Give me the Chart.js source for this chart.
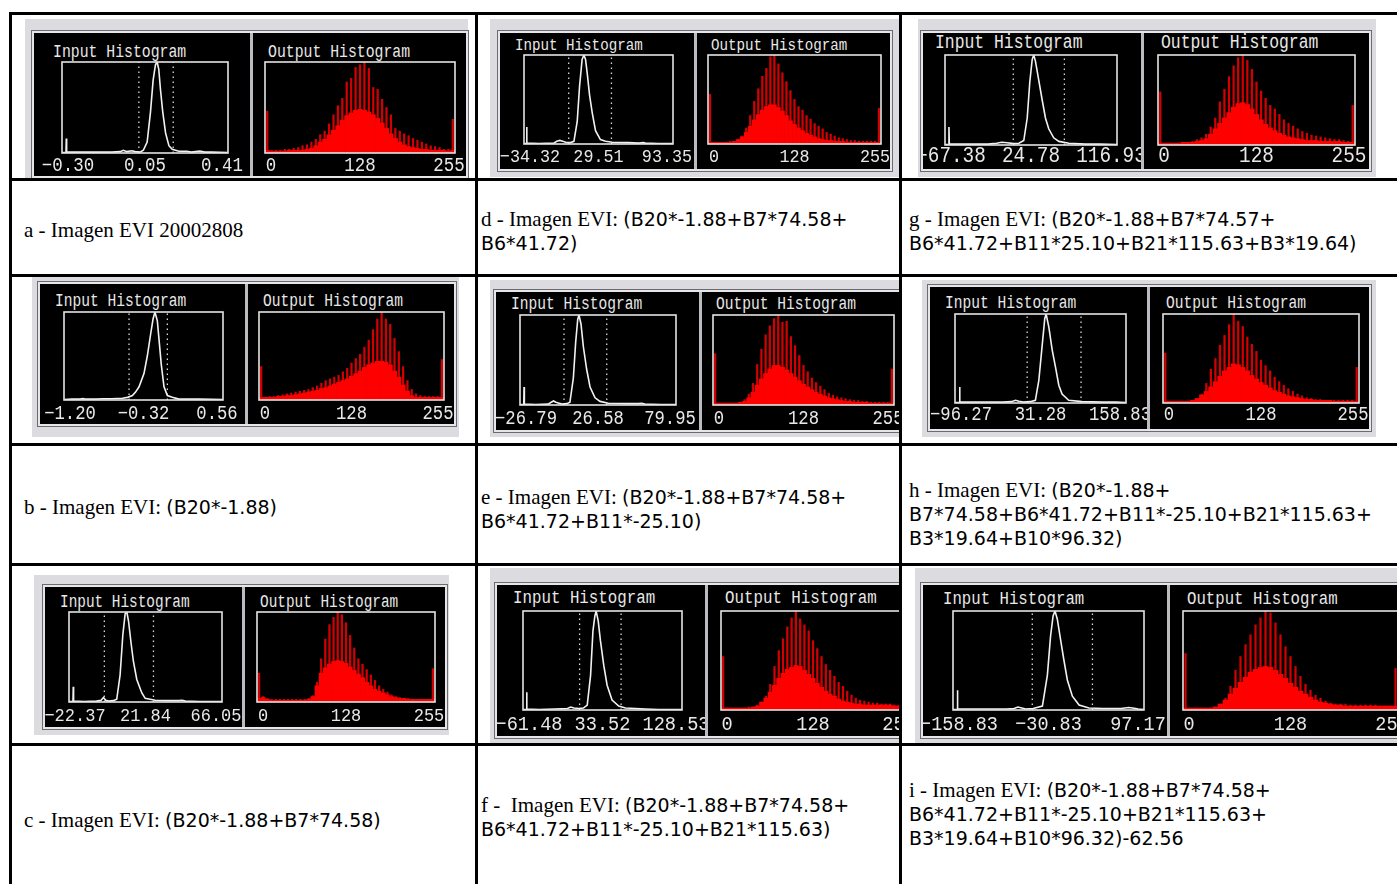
<!DOCTYPE html>
<html>
<head>
<meta charset="utf-8">
<script src="https://cdn.jsdelivr.net/npm/chart.js@4.4.1/dist/chart.umd.min.js"></script>
<style>
  body { margin: 0; background: #fff; }
  #page { position: relative; width: 1397px; height: 884px; overflow: hidden; background: #fff; }
  .cell { position: absolute; overflow: hidden; }
  .frame { position: absolute; background: #dcdce0; }
  .blk { position: absolute; background: #000; box-shadow: 0 0 0 2px #e6e6ea, 0 0 0 3px #6c6c70; }
  .sep { position: absolute; background: #bcbcc0; }
  .ttl { position: absolute; color: #e8e8e8; font-family: 'Liberation Mono', monospace; white-space: pre; }
  canvas { position: absolute; }
  .line { position: absolute; background: #000; z-index: 5; }
  .cap { position: absolute; line-height: 22px; color: #000; white-space: pre; }
  .cap .s { font-family: 'Liberation Serif', serif; font-size: 21px; }
  .cap .f { font-family: 'DejaVu Sans', sans-serif; font-size: 19px; }
</style>
</head>
<body>
<div id="page"></div>
<script>
// bins of the output (stretched) histograms, 0..255
const outBins = [0,6,12,18,24,30,36,42,48,54,60,66,72,78,84,90,96,102,108,114,120,126,132,138,144,150,156,162,168,174,180,186,192,198,204,210,216,222,228,234,240,246,255];

// input histograms: [bin position 0-100, count % of max]
const inputA = [[0,0.5],[2.4,0.5],[2.6,16],[2.8,1],[10,1],[20,1],[30,1],[35,1.5],[37,3],[39,1.5],[42,2.5],[44,1.5],[47,1],[49,3],[51.3,12],[53.3,45],[54.9,80],[56.3,97],[57.3,100],[58.3,92],[59.3,70],[60.7,45],[62.4,22],[64.4,8],[66.4,4],[70.4,2],[75,2],[78,1],[80.5,1.5],[83,2],[86,1],[90.5,1],[95,0.7],[100,0.5]];
const inputD = [[0,0.5],[1.6,0.5],[1.8,19],[2,1],[10,0.5],[20,1],[22,3],[24,4],[26,3],[28,2],[31,1.5],[33.5,3],[35.7,25],[37.3,65],[39,95],[40.2,100],[41.3,95],[42.4,80],[44,55],[45.8,35],[48,15],[51.3,5],[54.7,3],[59.2,2],[70,1.5],[77,1],[80,1.5],[81.5,1],[90,0.5],[100,0.5]];
const inputG = [[0,0.5],[2.1,0.5],[2.3,20],[2.5,1],[15,1],[25,1],[30,2],[33,3],[36,2.5],[40,1.5],[43,2],[45.8,5],[47.8,30],[49.3,70],[50.7,95],[51.6,100],[52.6,93],[54.5,72],[56.5,50],[58.4,30],[60.3,18],[63.2,8],[66.2,4],[72,2],[81.6,1],[90,1],[100,0.5]];
const inputB = [[0,0.5],[5,1],[10,1],[12,1.5],[13,1],[20,1],[25,1.5],[30,1.5],[36.7,2],[40,3],[43,5],[45,9],[47.2,15],[50.3,30],[52.4,50],[54.5,75],[56,92],[57.2,100],[58.7,90],[59.7,70],[61.2,40],[62.9,15],[65,5],[68.1,3],[72.3,1],[85,1],[100,0.5]];
const inputE = [[0,0.5],[2.4,0.5],[2.6,20],[2.8,1],[10,0.5],[18,1],[20,3],[21.5,4.5],[23,3],[25,2],[27,1],[30,1.5],[32,3],[34.2,30],[35.7,70],[37,95],[37.8,100],[39.1,90],[40.6,65],[42.7,40],[44.9,20],[48.1,8],[51.3,4],[56.6,2],[70,1.5],[76,1.5],[78,2],[80,1],[90,0.5],[100,0.5]];
const inputH = [[0,0.5],[2.5,0.5],[2.7,18],[2.9,1],[15,1],[28,1],[33,1.5],[35.4,3],[37.4,2],[40,1],[44,1.5],[47,3],[49,25],[51,65],[52.5,95],[53.3,100],[54.9,85],[56.8,60],[58.8,40],[60.7,20],[62.6,10],[66.5,3],[74.3,1.5],[86,1],[94,1],[97,0.7],[100,0.5]];
const inputC = [[0,0.5],[2.6,0.5],[2.8,17],[3,1],[10,0.5],[18,1],[21,2],[22.5,5],[24,2],[26,1],[29,1.5],[31.2,3],[33.4,30],[35.2,75],[36.7,98],[37.8,100],[38.9,90],[40.6,65],[42.1,45],[44.3,25],[47.6,10],[49.8,4],[56.3,2],[65,1.5],[71.6,1.5],[74,2],[76,1],[85,0.5],[100,0.5]];
const inputF = [[0,0.5],[2.1,0.5],[2.3,18],[2.5,1],[10,0.5],[20,1],[28,1.5],[30,3],[32,2],[35,1.5],[38,2],[40.4,5],[42.5,35],[44,80],[45.2,95],[46,100],[47.3,90],[48.7,70],[50.8,45],[52.9,25],[56,10],[60.2,4],[64.4,2],[77,1],[85,0.5],[100,0.5]];
const inputI = [[0,0.5],[2.1,0.5],[2.3,20],[2.5,1],[15,1],[28,1],[32,1.5],[34,3],[36,2],[38,1],[42,1.5],[46.8,4],[49.4,35],[51.1,75],[52.4,95],[53.4,100],[54.6,92],[56.4,70],[58.1,50],[59.9,30],[62.5,14],[66,5],[71.2,2],[78.2,1.5],[88,1.5],[92,2.5],[94,2],[97,1],[100,0.5]];

// stretch limits (dotted lines), in the same bin units
const limitsA = [46.3, 67];
const limitsD = [30, 58.7];
const limitsG = [39.7, 69.4];
const limitsB = [40.9, 65];
const limitsE = [28.2, 55.6];
const limitsH = [42.2, 73.7];
const limitsC = [23.1, 55.2];
const limitsF = [35.6, 61.7];
const limitsI = [41.5, 73];

// tick labels
const ticksA = ['\u22120.30', '0.05', '0.41'];
const ticksD = ['\u221234.32', '29.51', '93.35'];
const ticksG = ['\u221267.38', '24.78', '116.93'];
const ticksB = ['\u22121.20', '\u22120.32', '0.56'];
const ticksE = ['\u221226.79', '26.58', '79.95'];
const ticksH = ['\u221296.27', '31.28', '158.83'];
const ticksC = ['\u221222.37', '21.84', '66.05'];
const ticksF = ['\u221261.48', '33.52', '128.53'];
const ticksI = ['\u2212158.83', '\u221230.83', '97.17'];
const ticksOut = ['0', '128', '255'];

// output histograms (% of max): tall comb spikes and the filled body
const spikesA = [46,3,3,3,4,4,5,6,8,9,12,15,20,24,32,42,52,60,78,82,94,97,100,93,72,70,59,50,42,27,24,21,19,16,14,12,10,8,7,6,4,4,37];
const baseA = [3,2,2,2,2,3,3,3,3,4,5,8,12,15,20,25,30,36,41,44,47,48,47,45,42,38,33,27,21,16,12,9,7,6,5,4,4,3,3,3,3,2,3];
const spikesD = [56,2,2,2,2,3,3,5,9,18,32,48,62,76,85,98,100,90,80,70,60,50,42,38,32,28,23,20,17,13,11,9,7,6,5,4,4,3,3,3,3,3,40];
const baseD = [2,2,2,2,2,2,3,5,8,13,20,27,33,38,42,44,44,41,37,32,26,22,18,15,12,10,8,6,5,4,4,3,3,3,2,2,2,2,2,2,2,2,2];
const spikesG = [59,2,2,2,2,2,3,4,6,8,12,20,30,48,62,76,88,97,100,94,84,70,60,52,44,40,34,28,24,21,18,15,13,11,10,9,8,7,6,6,5,4,44];
const baseG = [2,2,2,2,2,3,3,3,4,5,7,12,18,24,30,36,42,46,47,45,40,34,28,23,19,16,13,11,9,8,7,6,5,5,5,4,4,4,4,4,3,3,3];
const spikesB = [38,3,4,4,5,6,7,8,9,10,11,12,14,16,19,22,24,26,28,32,36,42,47,52,60,68,80,92,100,92,86,70,55,38,22,12,7,5,4,4,4,4,46];
const baseB = [3,3,3,3,4,4,5,5,6,7,8,9,10,11,13,14,16,18,20,22,24,27,30,33,37,40,42,44,44,43,40,33,26,17,10,5,3,3,3,3,3,3,3];
const spikesE = [57,2,2,2,2,2,3,6,12,24,45,62,78,88,96,100,92,93,76,66,55,44,37,30,25,21,17,13,11,9,8,7,6,5,5,4,4,3,3,3,3,3,40];
const baseE = [2,2,2,2,2,2,3,4,8,14,22,29,35,40,44,44,42,39,35,31,27,23,20,17,14,12,10,8,7,6,5,4,4,3,3,3,3,2,2,2,2,2,2];
const spikesH = [56,2,2,2,2,2,3,5,10,22,38,50,65,76,88,100,92,86,74,66,58,48,42,36,29,24,20,16,13,10,8,6,5,4,4,3,3,3,3,3,3,3,40];
const baseH = [2,2,2,2,2,2,3,5,9,13,18,24,30,36,40,44,43,40,36,31,27,23,20,17,14,12,10,8,7,6,5,4,4,3,3,3,3,2,2,2,2,2,2];
const spikesC = [32,6,4,3,3,3,3,3,3,3,3,3,4,7,22,48,70,86,94,100,97,88,74,60,48,42,36,30,24,18,14,11,8,6,5,4,4,3,3,3,3,3,37];
const baseC = [4,5,3,2,2,2,2,2,2,2,2,2,3,6,18,32,38,42,45,46,45,43,39,35,31,27,22,18,14,12,10,8,6,5,4,4,3,3,3,3,3,3,3];
const spikesF = [54,2,2,2,2,2,3,3,5,8,14,26,44,60,72,84,93,100,92,86,80,70,62,54,46,40,34,28,24,19,15,12,10,9,8,7,7,6,6,6,5,5,40];
const baseF = [2,2,2,2,2,2,2,3,4,8,12,18,25,32,37,41,43,45,44,40,36,32,27,23,19,16,14,11,9,8,7,6,6,5,5,5,5,5,5,5,4,4,4];
const spikesI = [57,2,2,2,2,2,3,6,12,24,40,54,66,76,86,93,100,98,88,76,64,54,44,34,26,20,15,12,9,7,6,6,6,5,5,5,5,5,5,4,4,4,42];
const baseI = [2,2,2,2,2,2,3,6,10,16,22,28,33,38,41,43,44,43,40,36,32,27,23,19,16,13,10,8,7,6,5,5,4,4,4,4,4,4,4,4,4,4,4];

// captions under each screenshot: [font, text] runs per line
const captionA = [[['s', 'a - Imagen EVI 20002808']]];
const captionD = [[['s', 'd - Imagen EVI: '], ['f', '(B20*-1.88+B7*74.58+']], [['f', 'B6*41.72)']]];
const captionG = [[['s', 'g - Imagen EVI: '], ['f', '(B20*-1.88+B7*74.57+']], [['f', 'B6*41.72+B11*25.10+B21*115.63+B3*19.64)']]];
const captionB = [[['s', 'b - Imagen EVI: '], ['f', '(B20*-1.88)']]];
const captionE = [[['s', 'e - Imagen EVI: '], ['f', '(B20*-1.88+B7*74.58+']], [['f', 'B6*41.72+B11*-25.10)']]];
const captionH = [[['s', 'h - Imagen EVI: '], ['f', '(B20*-1.88+']], [['f', 'B7*74.58+B6*41.72+B11*-25.10+B21*115.63+']], [['f', 'B3*19.64+B10*96.32)']]];
const captionC = [[['s', 'c - Imagen EVI: '], ['f', '(B20*-1.88+B7*74.58)']]];
const captionF = [[['s', 'f -  Imagen EVI: '], ['f', '(B20*-1.88+B7*74.58+']], [['f', 'B6*41.72+B11*-25.10+B21*115.63)']]];
const captionI = [[['s', 'i - Imagen EVI: '], ['f', '(B20*-1.88+B7*74.58+']], [['f', 'B6*41.72+B11*-25.10+B21*115.63+']], [['f', 'B3*19.64+B10*96.32)-62.56']]];

// page layout (pixel rects are [x1, y1, x2, y2])
const panels = [
  { cell: [12, 15, 475, 178], frame: [25, 19, 468, 178], black: [34, 33, 466, 176], div: 250, inBox: [62, 62, 228, 153], outBox: [265, 62, 455, 153], titleY: 57, inX: 53, outX: 268, labelY: 171, fs: 14.8,
    input: inputA, limits: limitsA, ticks: ticksA, spikes: spikesA, base: baseA },
  { cell: [478, 15, 899, 178], frame: [490, 19, 899, 177], black: [500, 33, 890, 169], div: 694, inBox: [524, 55, 673, 144], outBox: [708, 55, 881, 144], titleY: 50, inX: 515, outX: 711, labelY: 162, fs: 14.2,
    input: inputD, limits: limitsD, ticks: ticksD, spikes: spikesD, base: baseD },
  { cell: [902, 15, 1397, 178], frame: [918, 19, 1376, 177], black: [923, 33, 1369, 169], div: 1141, inBox: [945, 55, 1117, 145], outBox: [1158, 55, 1355, 145], titleY: 49, inX: 935, outX: 1161, labelY: 162, fs: 16.4,
    input: inputG, limits: limitsG, ticks: ticksG, spikes: spikesG, base: baseG },
  { cell: [12, 277, 475, 443], frame: [32, 277, 459, 437], black: [40, 284, 454, 424], div: 245, inBox: [64, 312, 223, 400], outBox: [259, 312, 444, 400], titleY: 306, inX: 55, outX: 263, labelY: 419, fs: 14.6,
    input: inputB, limits: limitsB, ticks: ticksB, spikes: spikesB, base: baseB },
  { cell: [478, 277, 899, 443], frame: [490, 280, 899, 437], black: [496, 292, 910, 430], div: 699, inBox: [520, 315, 676, 405], outBox: [713, 315, 894, 405], titleY: 309, inX: 511, outX: 716, labelY: 424, fs: 14.6,
    input: inputE, limits: limitsE, ticks: ticksE, spikes: spikesE, base: baseE },
  { cell: [902, 277, 1397, 443], frame: [922, 280, 1376, 437], black: [930, 287, 1369, 429], div: 1147, inBox: [955, 314, 1126, 403], outBox: [1163, 314, 1359, 403], titleY: 308, inX: 945, outX: 1166, labelY: 420, fs: 14.6,
    input: inputH, limits: limitsH, ticks: ticksH, spikes: spikesH, base: baseH },
  { cell: [12, 566, 475, 743], frame: [34, 575, 449, 735], black: [45, 587, 445, 727], div: 242, inBox: [69, 612, 222, 702], outBox: [257, 612, 435, 702], titleY: 607, inX: 60, outX: 260, labelY: 721, fs: 14.4,
    input: inputC, limits: limitsC, ticks: ticksC, spikes: spikesC, base: baseC },
  { cell: [478, 566, 899, 743], frame: [490, 568, 899, 743], black: [497, 585, 915, 736], div: 705, inBox: [523, 611, 682, 710], outBox: [721, 611, 905, 710], titleY: 604, inX: 513, outX: 725, labelY: 730, fs: 15.8,
    input: inputF, limits: limitsF, ticks: ticksF, spikes: spikesF, base: baseF },
  { cell: [902, 566, 1397, 743], frame: [915, 568, 1397, 743], black: [923, 585, 1410, 736], div: 1167, inBox: [953, 611, 1144, 710], outBox: [1183, 611, 1398, 710], titleY: 605, inX: 943, outX: 1187, labelY: 730, fs: 15.7,
    input: inputI, limits: limitsI, ticks: ticksI, spikes: spikesI, base: baseI }
];

const captions = [
  { x: 24, y: 230, lines: captionA }, { x: 481, y: 219, lines: captionD }, { x: 909, y: 219, lines: captionG },
  { x: 24, y: 507, lines: captionB }, { x: 481, y: 497, lines: captionE }, { x: 909, y: 490, lines: captionH },
  { x: 24, y: 820, lines: captionC }, { x: 481, y: 805, lines: captionF }, { x: 909, y: 790, lines: captionI }
];

const hLines = [12, 178, 274, 443, 563, 743];
const vLines = [9, 475, 899];

const page = document.getElementById('page');

function put(parent, cls, r, ox, oy) {
  const el = document.createElement('div');
  el.className = cls;
  el.style.left = (r[0] - ox) + 'px';
  el.style.top = (r[1] - oy) + 'px';
  el.style.width = (r[2] - r[0]) + 'px';
  el.style.height = (r[3] - r[1]) + 'px';
  parent.appendChild(el);
  return el;
}

// white plot frame + the three axis labels of the old histogram widget
const histFrame = {
  id: 'histFrame',
  afterDraw(chart, args, opts) {
    const ctx = chart.ctx;
    const a = chart.chartArea;
    ctx.save();
    ctx.strokeStyle = '#e4e4e4';
    ctx.lineWidth = 1.6;
    ctx.strokeRect(a.left, a.top, a.right - a.left, a.bottom - a.top);
    ctx.fillStyle = '#e8e8e8';
    ctx.font = opts.size + 'px "Liberation Mono", monospace';
    ctx.textAlign = 'center';
    const xs = [a.left + 6, (a.left + a.right) / 2, a.right - 6];
    opts.labels.forEach(function(t, i) {
      ctx.save();
      ctx.translate(xs[i], opts.y);
      ctx.scale(1, 1.12);
      ctx.fillText(t, 0, 0);
      ctx.restore();
    });
    ctx.restore();
  }
};

function makeCanvas(cell, x1, x2, y1, y2, ox, oy) {
  const cv = document.createElement('canvas');
  cv.width = x2 - x1;
  cv.height = y2 - y1;
  cv.style.left = (x1 - ox) + 'px';
  cv.style.top = (y1 - oy) + 'px';
  cv.style.width = (x2 - x1) + 'px';
  cv.style.height = (y2 - y1) + 'px';
  cell.appendChild(cv);
  return cv;
}

function baseOptions(pad, labels, labelY, size) {
  return {
    responsive: false,
    animation: false,
    devicePixelRatio: 1,
    layout: { padding: pad },
    plugins: {
      legend: { display: false },
      tooltip: { enabled: false },
      histFrame: { labels: labels, y: labelY, size: size }
    }
  };
}

panels.forEach(function(p) {
  const ox = p.cell[0], oy = p.cell[1];
  const cell = put(page, 'cell', p.cell, 0, 0);
  put(cell, 'frame', p.frame, ox, oy);
  put(cell, 'blk', p.black, ox, oy);
  put(cell, 'sep', [p.div, p.black[1], p.div + 3, p.black[3]], ox, oy);

  // titles
  [['Input Histogram', p.inX], ['Output Histogram', p.outX]].forEach(function(t) {
    const el = document.createElement('div');
    el.className = 'ttl';
    el.textContent = t[0];
    el.style.fontSize = p.fs + 'px';
    el.style.lineHeight = p.fs + 'px';
    el.style.left = (t[1] - ox) + 'px';
    el.style.top = (p.titleY - 0.766 * p.fs - oy) + 'px';
    el.style.transformOrigin = '0 ' + (0.766 * p.fs) + 'px';
    el.style.transform = 'scaleY(1.22)';
    cell.appendChild(el);
  });

  const tickSize = p.fs * 1.18;
  const top = p.inBox[1] - 3;
  const bottom = p.black[3];

  // input histogram (white curve)
  const inCv = makeCanvas(cell, p.black[0], p.div, top, bottom, ox, oy);
  const inOpts = baseOptions(
    { left: p.inBox[0] - p.black[0], right: p.div - p.inBox[2], top: 3, bottom: bottom - p.inBox[3] },
    p.ticks, p.labelY - top, tickSize);
  inOpts.scales = {
    x: { type: 'linear', min: 0, max: 100, display: false },
    y: { min: 0, max: 100, display: false }
  };
  const dotted = p.limits.map(function(v) {
    return {
      data: [{ x: v, y: 0 }, { x: v, y: 100 }],
      borderColor: '#d8d8d8', borderWidth: 1.3, borderDash: [1.5, 3.5], pointRadius: 0
    };
  });
  new Chart(inCv, {
    type: 'line',
    data: {
      datasets: [{
        data: p.input.map(function(d) { return { x: d[0], y: d[1] }; }),
        borderColor: '#f2f2f2', borderWidth: 1.6, pointRadius: 0, tension: 0
      }].concat(dotted)
    },
    options: inOpts,
    plugins: [histFrame]
  });

  // output histogram (red bars)
  const outLeft = p.div + 3;
  const outCv = makeCanvas(cell, outLeft, p.black[2], top, bottom, ox, oy);
  const outOpts = baseOptions(
    { left: p.outBox[0] - outLeft, right: p.black[2] - p.outBox[2], top: 3, bottom: bottom - p.outBox[3] },
    ticksOut, p.labelY - top, tickSize);
  outOpts.scales = {
    x: { display: false },
    y: { min: 0, max: 100, display: false }
  };
  new Chart(outCv, {
    type: 'bar',
    data: {
      labels: outBins,
      datasets: [
        { data: p.base, backgroundColor: '#ff0000', barPercentage: 1, categoryPercentage: 1, grouped: false, order: 0 },
        { data: p.spikes, backgroundColor: '#d20000', barThickness: 1.6, grouped: false, order: 1 }
      ]
    },
    options: outOpts,
    plugins: [histFrame]
  });
});

// captions
captions.forEach(function(c) {
  const el = document.createElement('div');
  el.className = 'cap';
  el.style.left = c.x + 'px';
  el.style.top = (c.y - 11) + 'px';
  el.innerHTML = c.lines.map(function(line) {
    return line.map(function(run) {
      return '<span class="' + run[0] + '">' + run[1] + '</span>';
    }).join('');
  }).join('<br>');
  page.appendChild(el);
});

// table rules
hLines.forEach(function(y) { put(page, 'line', [vLines[0], y, 1397, y + 3], 0, 0); });
vLines.forEach(function(x) { put(page, 'line', [x, 12, x + 3, 884], 0, 0); });
</script>
</body>
</html>
